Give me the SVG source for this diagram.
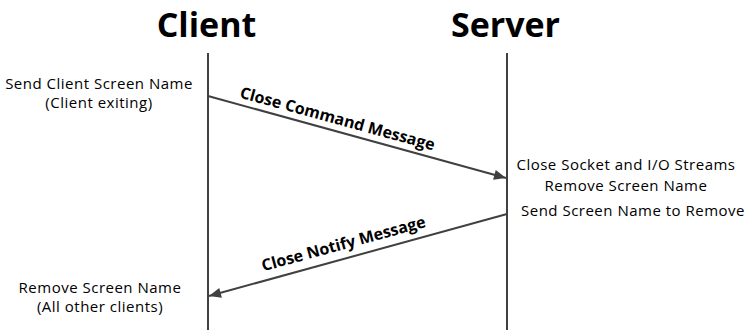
<svg xmlns="http://www.w3.org/2000/svg" width="749" height="330" viewBox="0 0 749 330">
  <defs>
    <marker id="arrow" viewBox="0 0 12 10" refX="12" refY="5" markerWidth="13" markerHeight="10" markerUnits="userSpaceOnUse" orient="auto">
      <path d="M0,0 L12,5 L0,10 z" fill="#404040"/>
    </marker>
    <style>
      .title { font-family: "Open Sans", Lato, sans-serif; font-weight: bold; font-size: 34px; fill: #000; text-anchor: middle; }
      .note { font-family: "Open Sans", Lato, sans-serif; font-size: 15px; letter-spacing: 0.5px; fill: #000; text-anchor: middle; }
      .msg { font-family: "Open Sans", Lato, sans-serif; font-weight: bold; font-size: 16px; fill: #000; text-anchor: middle; }
      .life { stroke: #404040; stroke-width: 2; fill: none; }
      .conn { stroke: #404040; stroke-width: 2; fill: none; marker-end: url(#arrow); }
    </style>
  </defs>
  <rect width="749" height="330" fill="#fff"/>

  <g id="client">
    <text class="title" x="206.5" y="37">Client</text>
    <line class="life" x1="208" y1="53" x2="208" y2="330"/>
    <text class="note" x="99" y="89">Send Client Screen Name</text>
    <text class="note" x="99" y="108">(Client exiting)</text>
    <text class="note" x="100" y="293">Remove Screen Name</text>
    <text class="note" x="100" y="312">(All other clients)</text>
  </g>

  <g id="server">
    <text class="title" x="505.5" y="37">Server</text>
    <line class="life" x1="507" y1="53" x2="507" y2="330"/>
    <text class="note" x="626" y="170">Close Socket and I/O Streams</text>
    <text class="note" x="626" y="191">Remove Screen Name</text>
    <text class="note" x="633" y="216">Send Screen Name to Remove</text>
  </g>

  <g id="connectors">
    <line class="conn" x1="208" y1="96" x2="506" y2="178"/>
    <text class="msg" transform="translate(336 124) rotate(15.3)">Close Command Message</text>
    <line class="conn" x1="507" y1="214" x2="209" y2="296"/>
    <text class="msg" transform="translate(345 249) rotate(-15.3)">Close Notify Message</text>
  </g>
</svg>
